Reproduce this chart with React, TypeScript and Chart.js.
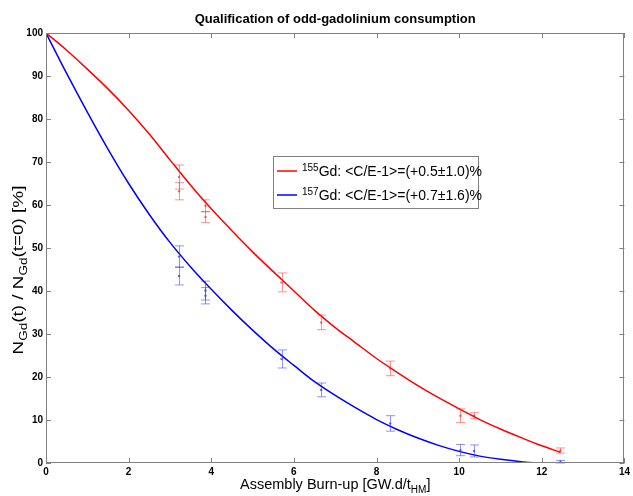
import React, { useEffect, useRef } from 'react';
import { Chart, registerables } from 'chart.js';
Chart.register(...registerables);

const FONT = '"Liberation Sans", Arial, Helvetica, sans-serif';

// Fitted curves
const curveX = [0, 0.5, 1, 1.5, 2, 2.5, 3, 3.5, 4, 4.5, 5, 5.5, 6, 6.5, 7, 7.5, 8, 8.5, 9, 9.5, 10, 10.5, 11, 11.5, 12, 12.45];
const redCurve = [100, 96.0, 91.6, 87.0, 82.0, 76.5, 70.5, 64.6, 59.1, 54.0, 49.1, 44.5, 40.0, 35.5, 31.5, 27.9, 24.3, 21.1, 18.0, 15.2, 12.6, 10.1, 7.9, 5.9, 4.0, 2.5];
const blueCurve = [100, 90.6, 81.6, 73.0, 65.0, 57.8, 51.3, 45.6, 40.4, 35.5, 30.9, 26.6, 22.7, 18.9, 15.7, 12.8, 10.1, 7.8, 5.8, 4.1, 2.7, 1.6, 0.85, 0.3, 0, 0];

// Measurements with error bars
const redMeasX = [3.22, 3.22, 3.86, 3.86, 5.7, 6.66, 8.33, 10.03, 10.36, 12.45];
const redMeasY = [66.5, 63.2, 59.8, 57.2, 42, 32.7, 22, 11, 11, 2.9];
const redMeasErr = [2.8, 2.0, 1.4, 1.3, 2.2, 1.7, 1.7, 1.6, 0.7, 0.6];
const blueMeasX = [3.22, 3.22, 3.86, 3.86, 5.7, 6.66, 8.33, 10.03, 10.36, 12.45];
const blueMeasY = [48, 43.5, 40.1, 38.9, 24.2, 17, 9.2, 3, 2.8, 0.3];
const blueMeasErr = [2.5, 2.1, 2.2, 1.9, 2.1, 1.6, 1.8, 1.3, 1.4, 0.3];

const TITLE = 'Qualification of odd-gadolinium consumption';
const X_TITLE = [{ t: 'Assembly Burn-up [GW.d/t' }, { t: 'HM', sub: true }, { t: ']' }];
const Y_TITLE = [{ t: 'N' }, { t: 'Gd', sub: true }, { t: '(t) / N' }, { t: 'Gd', sub: true }, { t: '(t=0) [%]' }];
const LEGEND = [
  { color: '#ff0000', sup: '155', text: 'Gd: <C/E-1>=(+0.5±1.0)%' },
  { color: '#0000ff', sup: '157', text: 'Gd: <C/E-1>=(+0.7±1.6)%' },
];

type Part = { t: string; sub?: boolean; sup?: boolean };

function drawRich(ctx: CanvasRenderingContext2D, parts: Part[], x: number, y: number, size: number, align: 'left' | 'center') {
  const small = Math.round(size * 0.68);
  const widths = parts.map((p) => {
    ctx.font = `${p.sub || p.sup ? small : size}px ${FONT}`;
    return ctx.measureText(p.t).width;
  });
  const total = widths.reduce((a, b) => a + b, 0);
  let cx = align === 'center' ? x - total / 2 : x;
  ctx.textAlign = 'left';
  ctx.textBaseline = 'alphabetic';
  parts.forEach((p, i) => {
    ctx.font = `${p.sub || p.sup ? small : size}px ${FONT}`;
    const dy = p.sub ? size * 0.3 : p.sup ? -size * 0.38 : 0;
    ctx.fillText(p.t, cx, y + dy);
    cx += widths[i];
  });
}

const decorPlugin = {
  id: 'decor',
  afterDatasetsDraw(chart: any) {
    const ctx: CanvasRenderingContext2D = chart.ctx;
    const { left, right, top, bottom } = chart.chartArea;
    const xs = chart.scales.x;
    const ys = chart.scales.y;

    // error bars
    const drawBars = (X: number[], Y: number[], E: number[], color: string) => {
      ctx.save();
      ctx.strokeStyle = color;
      ctx.lineWidth = 1;
      for (let i = 0; i < X.length; i++) {
        const px = Math.round(xs.getPixelForValue(X[i])) + 0.5;
        const y1 = ys.getPixelForValue(Y[i] + E[i]);
        const y2 = ys.getPixelForValue(Math.max(0, Y[i] - E[i]));
        ctx.beginPath();
        ctx.moveTo(px, y1);
        ctx.lineTo(px, y2);
        ctx.moveTo(px - 4.5, y1);
        ctx.lineTo(px + 4.5, y1);
        ctx.moveTo(px - 4.5, y2);
        ctx.lineTo(px + 4.5, y2);
        ctx.stroke();
      }
      ctx.restore();
    };
    drawBars(redMeasX, redMeasY, redMeasErr, 'rgba(255,40,40,0.5)');
    drawBars(blueMeasX, blueMeasY, blueMeasErr, 'rgba(40,40,255,0.5)');

    // frame
    ctx.save();
    ctx.strokeStyle = '#808080';
    ctx.lineWidth = 1;
    ctx.strokeRect(Math.round(left) + 0.5, Math.round(top) + 0.5, Math.round(right - left) - 1, Math.round(bottom - top) - 1);
    ctx.beginPath();
    xs.ticks.forEach((t: any) => {
      const px = Math.round(xs.getPixelForValue(t.value)) + 0.5;
      ctx.moveTo(px, bottom);
      ctx.lineTo(px, bottom - 5);
      ctx.moveTo(px, top);
      ctx.lineTo(px, top + 5);
    });
    ys.ticks.forEach((t: any) => {
      const py = Math.round(ys.getPixelForValue(t.value)) + 0.5;
      ctx.moveTo(left, py);
      ctx.lineTo(left + 5, py);
      ctx.moveTo(right, py);
      ctx.lineTo(right - 5, py);
    });
    ctx.stroke();
    ctx.restore();

    // legend
    ctx.save();
    const bx = 273, by = 156, bw = 205, bh = 52;
    ctx.fillStyle = '#ffffff';
    ctx.fillRect(bx, by, bw, bh);
    ctx.strokeStyle = '#808080';
    ctx.strokeRect(bx + 0.5, by + 0.5, bw, bh);
    LEGEND.forEach((l, i) => {
      const ly = by + 15 + i * 24;
      ctx.strokeStyle = l.color;
      ctx.lineWidth = 1.5;
      ctx.beginPath();
      ctx.moveTo(277, ly);
      ctx.lineTo(297, ly);
      ctx.stroke();
      ctx.fillStyle = '#000';
      drawRich(ctx, [{ t: l.sup, sup: true }, { t: l.text }], 302, ly + 5, 14, 'left');
    });
    ctx.restore();

    // titles
    ctx.save();
    ctx.fillStyle = '#000';
    ctx.font = `bold 13px ${FONT}`;
    ctx.textAlign = 'center';
    ctx.textBaseline = 'middle';
    ctx.fillText(TITLE, (left + right) / 2, 19);
    drawRich(ctx, X_TITLE, (left + right) / 2, 489, 14.5, 'center');
    ctx.translate(23, 270);
    ctx.rotate(-Math.PI / 2);
    ctx.scale(1.35, 1);
    drawRich(ctx, Y_TITLE, 0, 0, 14, 'center');
    ctx.restore();
  },
};

export default function App() {
  const ref = useRef<HTMLCanvasElement>(null);
  useEffect(() => {
    if (!ref.current) return;
    const toPts = (xs: number[], ys: number[]) => xs.map((x, i) => ({ x, y: ys[i] }));
    const chart = new Chart(ref.current, {
      type: 'line',
      data: {
        datasets: [
          {
            label: '155Gd',
            data: toPts(curveX, redCurve),
            borderColor: '#ff0000',
            borderWidth: 1.5,
            pointRadius: 0,
            cubicInterpolationMode: 'monotone',
            fill: false,
          },
          {
            label: '157Gd',
            data: toPts(curveX, blueCurve),
            borderColor: '#0000ff',
            borderWidth: 1.5,
            pointRadius: 0,
            cubicInterpolationMode: 'monotone',
            fill: false,
          },
          {
            label: '155Gd meas',
            data: toPts(redMeasX, redMeasY),
            showLine: false,
            pointRadius: 1.2,
            pointBackgroundColor: 'rgba(255,40,40,0.7)',
            pointBorderWidth: 0,
          },
          {
            label: '157Gd meas',
            data: toPts(blueMeasX, blueMeasY),
            showLine: false,
            pointRadius: 1.2,
            pointBackgroundColor: 'rgba(40,40,255,0.7)',
            pointBorderWidth: 0,
          },
        ],
      },
      options: {
        responsive: false,
        animation: false,
        layout: { padding: { top: 33, right: 5, bottom: 0, left: 0 } },
        plugins: { legend: { display: false }, tooltip: { enabled: false }, title: { display: false } },
        scales: {
          x: {
            type: 'linear',
            min: 0,
            max: 14,
            ticks: { stepSize: 2, color: '#000', font: { family: FONT, size: 10, weight: 'bold' }, padding: 3, maxRotation: 0 },
            grid: { display: false, drawTicks: false },
            border: { display: false },
            afterFit: (s: any) => { s.height = 33; },
          },
          y: {
            min: 0,
            max: 100,
            ticks: { stepSize: 10, color: '#000', font: { family: FONT, size: 10, weight: 'bold' }, padding: 3 },
            grid: { display: false, drawTicks: false },
            border: { display: false },
            afterFit: (s: any) => { s.width = 46; },
          },
        },
      } as any,
      plugins: [decorPlugin],
    });
    return () => chart.destroy();
  }, []);
  return (
    <div style={{ position: 'absolute', left: 0, top: 0, width: 633, height: 496, background: '#fff' }}>
      <canvas ref={ref} width={633} height={496} style={{ width: 633, height: 496 }} />
    </div>
  );
}
